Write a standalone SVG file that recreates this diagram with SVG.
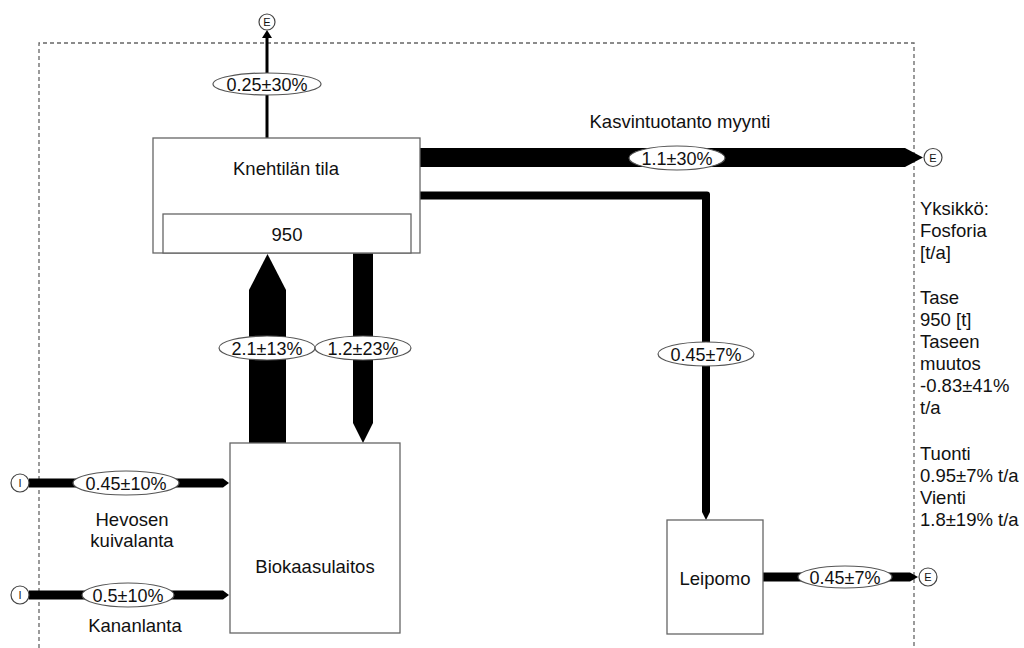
<svg xmlns="http://www.w3.org/2000/svg" width="1024" height="648" viewBox="0 0 1024 648">
<style>
text{font-family:"Liberation Sans",Arial,sans-serif;font-size:18.5px;fill:#111}
.c{text-anchor:middle}
.box{fill:#fff;stroke:#666;stroke-width:1.3}
.lbl{fill:#fff;stroke:#555;stroke-width:1.2}
.lt{font-size:18px;text-anchor:middle}
.term{fill:#fff;stroke:#444;stroke-width:1.2}
.tt{font-size:11px;text-anchor:middle}
.flow{fill:#000}
</style>
<rect width="1024" height="648" fill="#fff"/>
<path d="M39,648 V43 H914 V648" fill="none" stroke="#666" stroke-width="1.3" stroke-dasharray="4,3"/>

<g id="connectors">
  <!-- top export -->
  <line x1="267" y1="138" x2="267" y2="37" stroke="#000" stroke-width="3"/>
  <path class="flow" d="M262,38 L267,30 L272,38 Z"/>
  <ellipse class="lbl" cx="267" cy="84" rx="54" ry="11"/>
  <text class="lt" x="267" y="90.5">0.25±30%</text>
  <!-- Kasvintuotanto -->
  <path class="flow" d="M420,148 H905 L923,157.5 L905,167 H420 Z"/>
  <ellipse class="lbl" cx="677" cy="158" rx="48" ry="12"/>
  <text class="lt" x="677" y="164.5">1.1±30%</text>
  <text class="c" x="680" y="128">Kasvintuotanto myynti</text>
  <!-- to Leipomo -->
  <path class="flow" d="M420,191.5 H707 Q710,191.5 710,194.5 V512 L706,520 L702,512 V199.5 H420 Z"/>
  <ellipse class="lbl" cx="706" cy="354" rx="48" ry="12"/>
  <text class="lt" x="706" y="360.5">0.45±7%</text>
  <!-- 2.1 up -->
  <path class="flow" d="M249,443 V290 L267.5,254 L286,290 V443 Z"/>
  <!-- 1.2 down -->
  <path class="flow" d="M353,253 H373 V423 L363,443 L353,423 Z"/>
  <ellipse class="lbl" cx="267" cy="348" rx="48" ry="12"/>
  <text class="lt" x="267" y="354.5">2.1±13%</text>
  <ellipse class="lbl" cx="363" cy="348" rx="48" ry="12"/>
  <text class="lt" x="363" y="354.5">1.2±23%</text>
  <!-- inputs -->
  <path class="flow" d="M29,478.5 H223 L229,483 L223,487.5 H29 Z"/>
  <ellipse class="lbl" cx="126" cy="483" rx="53" ry="12"/>
  <text class="lt" x="126" y="489.5">0.45±10%</text>
  <text class="c" x="132" y="526">Hevosen</text>
  <text class="c" x="132" y="547">kuivalanta</text>
  <path class="flow" d="M29,590.5 H223 L229,595 L223,599.5 H29 Z"/>
  <ellipse class="lbl" cx="128" cy="595" rx="46" ry="12"/>
  <text class="lt" x="128" y="601.5">0.5±10%</text>
  <text class="c" x="135" y="632">Kananlanta</text>
  <!-- Leipomo out -->
  <path class="flow" d="M763,572.5 H910 L918,577 L910,581.5 H763 Z"/>
  <ellipse class="lbl" cx="845" cy="577" rx="47" ry="11"/>
  <text class="lt" x="845" y="583.5">0.45±7%</text>
</g>

<g id="terminals">
  <circle class="term" cx="267" cy="22" r="8"/><text class="tt" x="267" y="26">E</text>
  <circle class="term" cx="933" cy="157.5" r="9"/><text class="tt" x="933" y="161.5">E</text>
  <circle class="term" cx="928" cy="577" r="9"/><text class="tt" x="928" y="581">E</text>
  <circle class="term" cx="20" cy="483" r="9"/><text class="tt" x="20" y="487">I</text>
  <circle class="term" cx="20" cy="595" r="9"/><text class="tt" x="20" y="599">I</text>
</g>

<g id="knehtila">
  <rect class="box" x="153" y="138" width="267" height="115"/>
  <text class="c" x="286" y="175">Knehtilän tila</text>
  <rect class="box" x="163" y="214" width="248" height="39"/>
  <text class="c" x="287" y="241">950</text>
</g>
<g id="biokaasu">
  <rect class="box" x="230" y="443" width="170" height="190"/>
  <text class="c" x="315" y="573">Biokaasulaitos</text>
</g>
<g id="leipomo">
  <rect class="box" x="667" y="520" width="96" height="114"/>
  <text class="c" x="715" y="585">Leipomo</text>
</g>

<g id="legend">
  <text x="920" y="215">Yksikkö:</text>
  <text x="920" y="237">Fosforia</text>
  <text x="920" y="259">[t/a]</text>
  <text x="920" y="304">Tase</text>
  <text x="920" y="326">950 [t]</text>
  <text x="920" y="348">Taseen</text>
  <text x="920" y="370">muutos</text>
  <text x="920" y="392">-0.83±41%</text>
  <text x="920" y="414">t/a</text>
  <text x="920" y="460">Tuonti</text>
  <text x="920" y="482">0.95±7% t/a</text>
  <text x="920" y="504">Vienti</text>
  <text x="920" y="526">1.8±19% t/a</text>
</g>
</svg>
